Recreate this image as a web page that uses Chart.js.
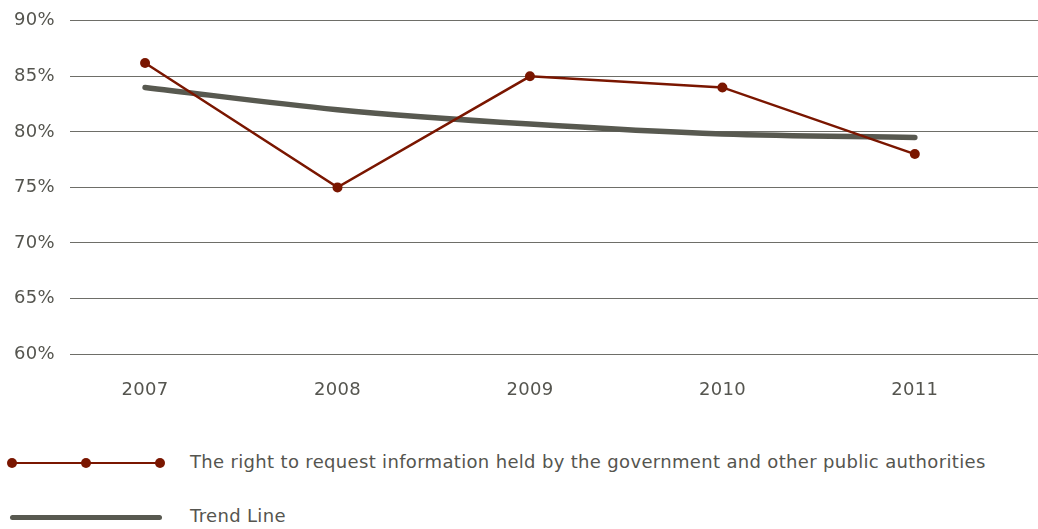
<!DOCTYPE html>
<html>
<head>
<meta charset="utf-8">
<script src="https://cdn.jsdelivr.net/npm/chart.js@4/dist/chart.umd.min.js"></script>
<style>
  body { margin: 0; background: #fff; font-family: "DejaVu Sans", Verdana, sans-serif; color: #55554f; }
  #wrap { position: relative; width: 1038px; height: 529px; overflow: hidden; }
  #chart { position: absolute; left: 0; top: -5px; }
  .leg { position: absolute; left: 0; font-size: 18px; letter-spacing: 0.33px; }
  .leg .txt { position: absolute; left: 190px; top: -12px; white-space: nowrap; }
  .leg .ln { position: absolute; left: 12px; width: 148px; }
  .leg .dot { position: absolute; width: 10px; height: 10px; border-radius: 50%; background: #7a1600; top: -5px; }
</style>
</head>
<body>
<div id="wrap">
  <canvas id="chart" width="1043" height="435"></canvas>
  <div class="leg" style="top:463px">
    <div class="ln" style="height:2px;top:-1px;background:#7a1600"></div>
    <div class="dot" style="left:7px"></div>
    <div class="dot" style="left:81px"></div>
    <div class="dot" style="left:155px"></div>
    <div class="txt" id="lab0"></div>
  </div>
  <div class="leg" style="top:517px">
    <div class="ln" style="height:5px;top:-2px;left:10px;width:152px;border-radius:3px;background:#585950"></div>
    <div class="txt" id="lab1"></div>
  </div>
</div>
<script>
const years = [2007, 2008, 2009, 2010, 2011];
const rightToRequest = [86.2, 75, 85, 84, 78];
const trendLine = [84, 82, 80.7, 79.8, 79.5];
const seriesNames = [
  "The right to request information held by the government and other public authorities",
  "Trend Line"
];
const yTicks = [60, 65, 70, 75, 80, 85, 90];

document.getElementById("lab0").textContent = seriesNames[0];
document.getElementById("lab1").textContent = seriesNames[1];

const font = { family: "'DejaVu Sans', Verdana, sans-serif", size: 18 };

// wider letter spacing to get closer to the Verdana look
const spacing = {
  id: "spacing",
  beforeDraw(chart) { chart.ctx.letterSpacing = "0.3px"; },
};

new Chart(document.getElementById("chart"), {
  type: "line",
  data: {
    datasets: [
      {
        label: seriesNames[0],
        data: years.map((y, i) => ({ x: y, y: rightToRequest[i] })),
        borderColor: "#7a1600",
        backgroundColor: "#7a1600",
        borderWidth: 2.5,
        pointRadius: 5,
        pointBorderWidth: 0,
        tension: 0,
      },
      {
        label: seriesNames[1],
        data: years.map((y, i) => ({ x: y, y: trendLine[i] })),
        borderColor: "#585950",
        borderWidth: 5.5,
        borderCapStyle: "round",
        pointRadius: 0,
        cubicInterpolationMode: "monotone",
      },
    ],
  },
  plugins: [spacing],
  options: {
    responsive: false,
    animation: false,
    plugins: { legend: { display: false }, tooltip: { enabled: false } },
    scales: {
      x: {
        type: "linear",
        min: 2006.61,
        max: 2011.64,
        afterBuildTicks: (s) => { s.ticks = years.map((v) => ({ value: v })); },
        afterFit: (s) => { s.height = 76; },
        grid: { display: false, drawTicks: false },
        border: { display: false },
        ticks: { color: "#55554f", font: font, padding: 26, callback: (v) => String(v) },
      },
      y: {
        min: 60,
        max: 90,
        afterBuildTicks: (s) => { s.ticks = yTicks.map((v) => ({ value: v })); },
        afterFit: (s) => { s.width = 70; },
        grid: { color: "#6e6e68", lineWidth: 1, drawTicks: false },
        border: { display: false },
        ticks: { color: "#55554f", font: font, padding: 15, callback: (v) => v + "%" },
      },
    },
  },
});
</script>
</body>
</html>
